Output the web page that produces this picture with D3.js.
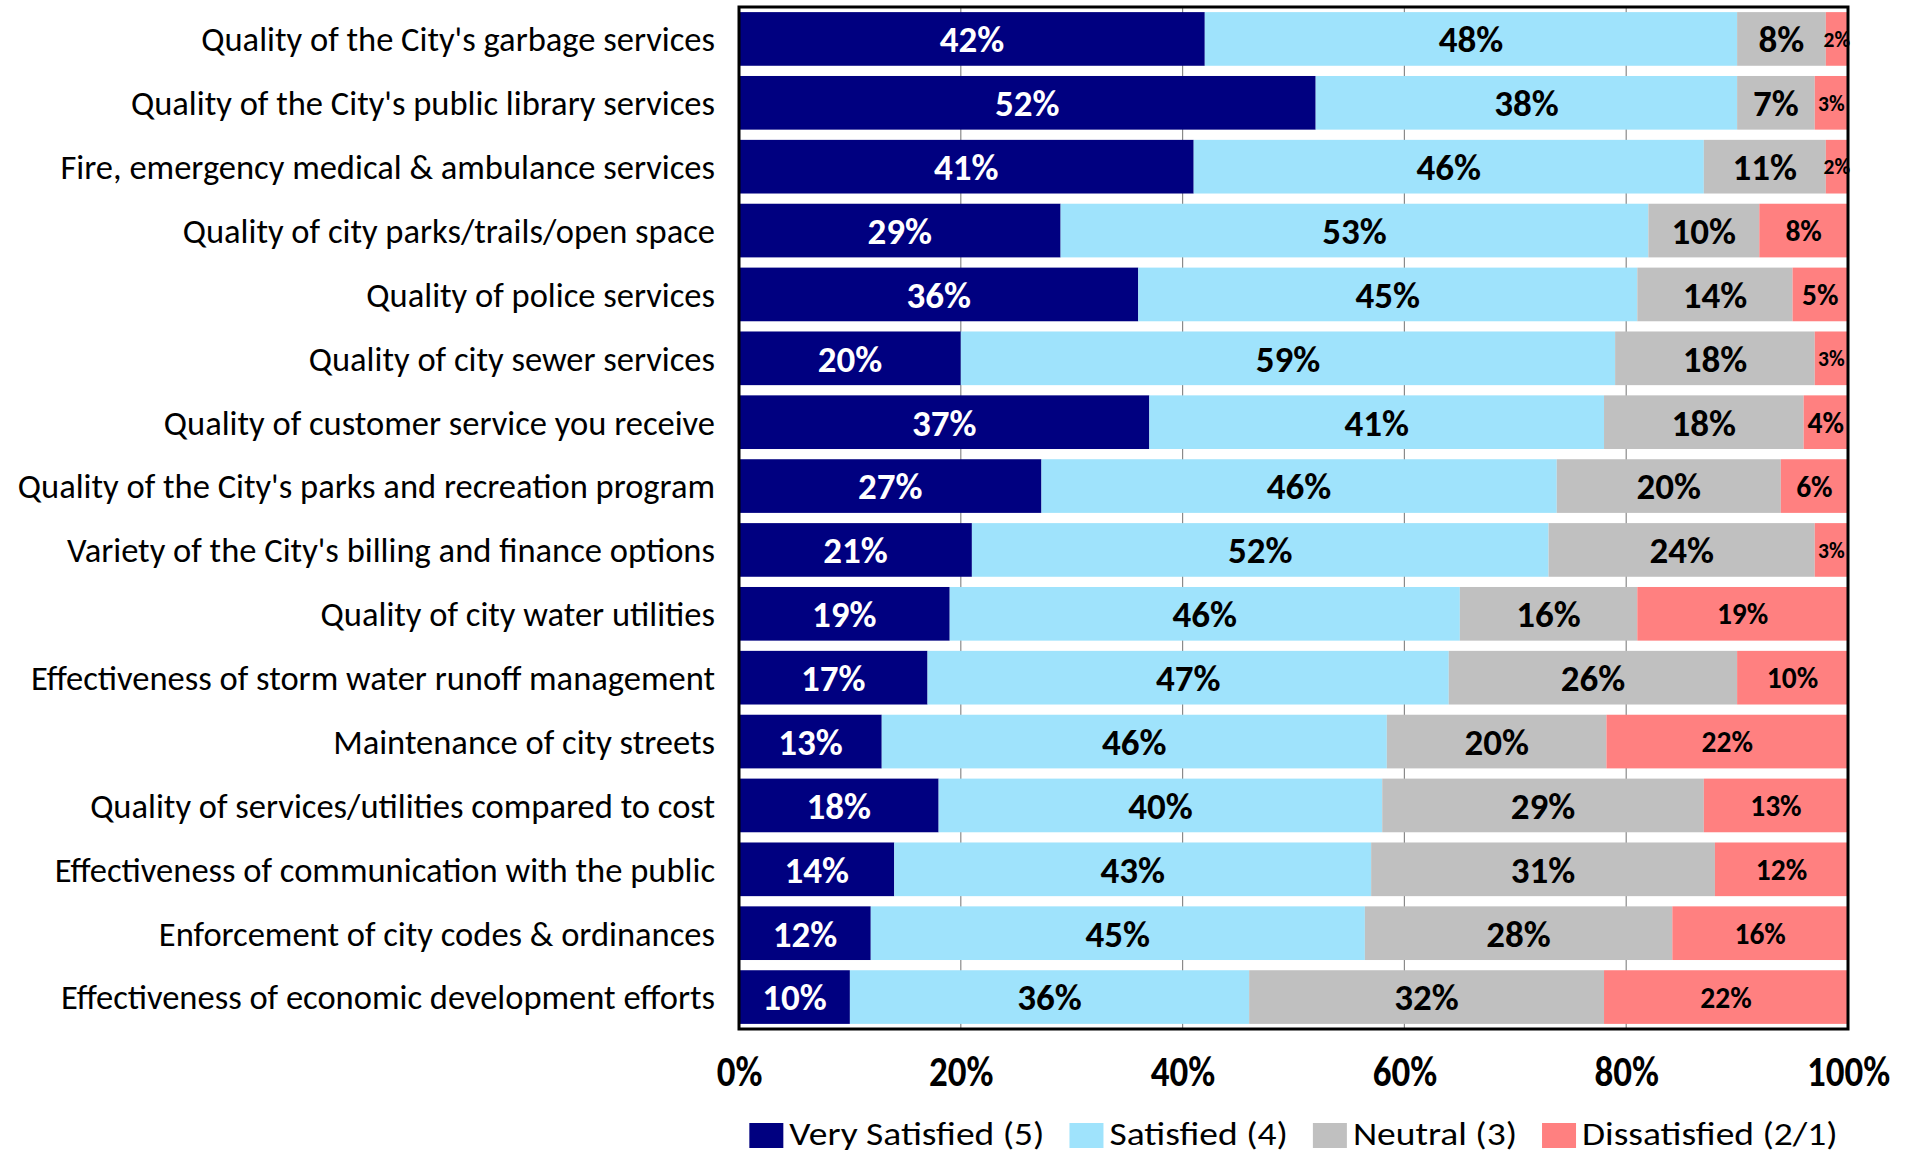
<!DOCTYPE html>
<html>
<head>
<meta charset="utf-8">
<script src="https://cdn.jsdelivr.net/npm/d3@7"></script>
<style>
	body { margin: 0; background: #fff; }
	svg { display: block; font-family: Carlito, Calibri, Lato, sans-serif; }
</style>
</head>
<body>
<svg id="chart" width="1910" height="1155"></svg>
<script>
const categories = [
	"Quality of the City's garbage services",
	"Quality of the City's public library services",
	"Fire, emergency medical & ambulance services",
	"Quality of city parks/trails/open space",
	"Quality of police services",
	"Quality of city sewer services",
	"Quality of customer service you receive",
	"Quality of the City's parks and recreation program",
	"Variety of the City's billing and finance options",
	"Quality of city water utilities",
	"Effectiveness of storm water runoff management",
	"Maintenance of city streets",
	"Quality of services/utilities compared to cost",
	"Effectiveness of communication with the public",
	"Enforcement of city codes & ordinances",
	"Effectiveness of economic development efforts"
];
const verySatisfied = [42, 52, 41, 29, 36, 20, 37, 27, 21, 19, 17, 13, 18, 14, 12, 10];
const satisfied     = [48, 38, 46, 53, 45, 59, 41, 46, 52, 46, 47, 46, 40, 43, 45, 36];
const neutral       = [ 8,  7, 11, 10, 14, 18, 18, 20, 24, 16, 26, 20, 29, 31, 28, 32];
const dissatisfied  = [ 2,  3,  2,  8,  5,  3,  4,  6,  3, 19, 10, 22, 13, 12, 16, 22];
const seriesNames = ["Very Satisfied (5)", "Satisfied (4)", "Neutral (3)", "Dissatisfied (2/1)"];
const xTicks = [0, 20, 40, 60, 80, 100];

const colors = ["#000080", "#9fe3fc", "#c0c0c0", "#ff8080"];
const labelColors = ["#fff", "#000", "#000", "#000"];

const W = 1910, H = 1155;
const margin = {top: 7, right: 62, bottom: 126, left: 739};
const iw = W - margin.left - margin.right;
const ih = H - margin.top - margin.bottom;

const keys = ["v", "s", "n", "d"];
const rows = categories.map((c, i) => ({
	cat: c, v: verySatisfied[i], s: satisfied[i], n: neutral[i], d: dissatisfied[i]
}));
const stacked = d3.stack().keys(keys).offset(d3.stackOffsetExpand)(rows);

const svg = d3.select("#chart");
const g = svg.append("g").attr("transform", `translate(${margin.left},${margin.top})`);

const x = d3.scaleLinear().domain([0, 1]).range([0, iw]);
const y = d3.scaleBand().domain(categories).range([0, ih]).paddingInner(0.16).paddingOuter(0.08);

// gridlines behind bars
g.append("g")
	.selectAll("line")
	.data(xTicks.slice(1, -1))
	.join("line")
	.attr("x1", d => x(d / 100)).attr("x2", d => x(d / 100))
	.attr("y1", 0).attr("y2", ih)
	.attr("stroke", "#8a8a8a").attr("stroke-width", 1.2);

const layers = g.selectAll("g.layer")
	.data(stacked)
	.join("g")
	.attr("class", "layer")
	.attr("fill", (d, i) => colors[i]);

layers.selectAll("rect")
	.data(d => d)
	.join("rect")
	.attr("x", d => x(d[0]))
	.attr("y", d => y(d.data.cat))
	.attr("width", d => x(d[1]) - x(d[0]))
	.attr("height", y.bandwidth());

// value labels
stacked.forEach((layer, li) => {
	g.append("g")
		.selectAll("text")
		.data(layer)
		.join("text")
		.attr("x", d => (x(d[0]) + x(d[1])) / 2)
		.attr("y", d => y(d.data.cat) + y.bandwidth() / 2)
		.attr("dy", "0.36em")
		.attr("text-anchor", "middle")
		.attr("font-weight", "bold")
		.attr("fill", labelColors[li])
		.attr("font-size", d => {
			const v = d.data[layer.key];
			if (li < 3) return 37;
			return v <= 3 ? 21.5 : 29.5;
		})
		.text(d => d.data[layer.key] + "%");
});

// category labels
g.append("g")
	.selectAll("text")
	.data(categories)
	.join("text")
	.attr("x", -24)
	.attr("y", d => y(d) + y.bandwidth() / 2)
	.attr("dy", "0.36em")
	.attr("text-anchor", "end")
	.attr("font-size", 34.5)
	.attr("fill", "#000")
	.text(d => d);

// x axis labels (a bit stretched vertically like the source)
const xAxis = g.append("g")
	.attr("transform", `translate(0,${ih})`)
	.call(d3.axisBottom(x).tickValues(xTicks.map(t => t / 100)).tickFormat(d3.format(".0%")).tickSize(0));
xAxis.select(".domain").remove();
xAxis.selectAll("text")
	.attr("y", 0).attr("dy", 0)
	.attr("font-family", "Carlito, Calibri, Lato, sans-serif")
	.attr("font-size", 37)
	.attr("font-weight", "bold")
	.attr("fill", "#000")
	.attr("transform", "translate(0,57) scale(1,1.12)");

// plot frame
g.append("rect")
	.attr("x", 0).attr("y", 0)
	.attr("width", iw).attr("height", ih)
	.attr("fill", "none")
	.attr("stroke", "#000")
	.attr("stroke-width", 3);

// legend
const legend = svg.append("g");
const items = legend.selectAll("g")
	.data(seriesNames)
	.join("g");
items.append("rect")
	.attr("width", 34).attr("height", 25)
	.attr("y", -22)
	.attr("fill", (d, i) => colors[i]);
items.append("text")
	.attr("x", 40)
	.attr("font-size", 37.5)
	.attr("fill", "#000")
	.attr("transform", "scale(1,0.9)")
	.attr("y", 0)
	.text(d => d);
let off = 0;
const offsets = [];
items.each(function(d) {
	const tw = d3.select(this).select("text").node().getComputedTextLength();
	offsets.push(off);
	off += 40 + tw + 25;
});
const total = off - 25;
const start = margin.left + iw / 2 - total / 2;
items.attr("transform", (d, i) => `translate(${start + offsets[i]},0)`);
legend.attr("transform", "translate(0,1145)");
</script>
</body>
</html>
